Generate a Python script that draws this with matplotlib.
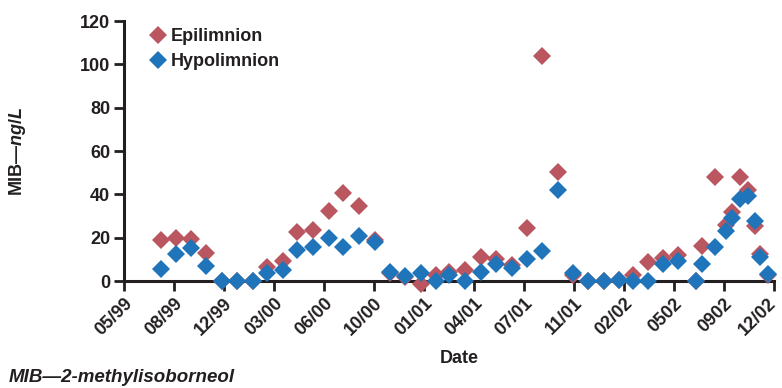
import numpy as np
import matplotlib.pyplot as plt
from matplotlib.transforms import ScaledTranslation

plt.rcParams['font.family'] = ['Liberation Sans', 'DejaVu Sans']
plt.rcParams['font.weight'] = 'bold'
plt.rcParams['mathtext.fontset'] = 'custom'
plt.rcParams['mathtext.it'] = 'Liberation Sans:italic:bold'
plt.rcParams['mathtext.rm'] = 'Liberation Sans:bold'

# Tick labels (evenly spaced categories on the axis)
tick_labels = ['05/99', '08/99', '12/99', '03/00', '06/00', '10/00', '01/01',
               '04/01', '07/01', '11/01', '02/02', '0502', '0902', '12/02']

# Sample positions in tick units (0 = 05/99, 1 = 08/99, ...)
x = [0.735, 1.04, 1.34, 1.64, 1.96, 2.26, 2.58, 2.86, 3.17, 3.46, 3.78,
     4.09, 4.38, 4.70, 5.02, 5.31, 5.62, 5.93, 6.23, 6.50, 6.81, 7.13,
     7.43, 7.75, 8.06, 8.35, 8.67, 8.98, 9.27, 9.59, 9.89, 10.17, 10.48,
     10.78, 11.08, 11.43, 11.55, 11.82, 12.04, 12.15, 12.31, 12.48, 12.62,
     12.72, 12.87]

epilimnion = [18.8, 20, 19.6, 12.9, 0, 0, 0, 6.5, 9.2, 22.6, 23.4,
              32.3, 40.6, 34.6, 18.8, 3.5, 2, -1.5, 2.6, 4.2, 4.9, 11.1,
              10.3, 7.2, 24.6, 104, 50.3, 3, 0, 0, 0.5, 2.6, 8.8,
              10.8, 11.9, 0, 16, 48, 25.7, 31.8, 48, 41.9, 25.2,
              12.6, 3]

hypolimnion = [5.4, 12.6, 15.2, 6.9, 0, 0, 0, 3.9, 4.9, 14.2, 15.7,
               20, 15.7, 20.8, 18, 4.3, 2.1, 3.5, 0, 2.6, 0, 4.2,
               7.7, 6.2, 10, 13.8, 41.9, 3.5, 0, 0, 0.5, 0, 0,
               7.7, 9.2, 0, 7.7, 15.7, 23.1, 29.2, 38, 39.1, 27.6,
               11.1, 3.1]

red = '#B9565F'
blue = '#1F74BA'
dark = '#231F20'

fig = plt.figure(figsize=(7.82, 3.88), dpi=100)
ax = fig.add_axes([124 / 782, 1 - 281 / 388, 650 / 782, 260 / 388])

ax.plot(x, epilimnion, 'D', color=red, markersize=8.7, markeredgewidth=0,
        label='Epilimnion', clip_on=False, zorder=3)
ax.plot(x, hypolimnion, 'D', color=blue, markersize=8.7, markeredgewidth=0,
        label='Hypolimnion', clip_on=False, zorder=4)

ax.set_xlim(0, 13)
ax.set_ylim(0, 120)
ax.set_yticks(np.arange(0, 121, 20))
ax.set_xticks(np.arange(len(tick_labels)))
ax.set_xticklabels(tick_labels, rotation=45, ha='right', rotation_mode='anchor')

for s in ['top', 'right']:
    ax.spines[s].set_visible(False)
for s in ['left', 'bottom']:
    ax.spines[s].set_linewidth(2.2)
    ax.spines[s].set_color(dark)
    ax.spines[s].set_zorder(2)

ax.tick_params(direction='out', length=7, width=2, color=dark,
               labelsize=13, labelcolor=dark, pad=3)
for lab in ax.get_xticklabels() + ax.get_yticklabels():
    lab.set_fontweight('bold')
# last label sits right at the figure edge: nudge it left a little
last = ax.get_xticklabels()[-1]
last.set_transform(last.get_transform() + ScaledTranslation(-6 / 100, 0, fig.dpi_scale_trans))

ax.set_xlabel('Date', fontsize=13, fontweight='bold', color=dark)
ax.xaxis.set_label_coords((459 - 124) / 650, -0.265)
ax.set_ylabel('MIB—$ng/L$', fontsize=13, fontweight='bold', color=dark)
ax.yaxis.set_label_coords(-0.148, 0.5)

leg = ax.legend(loc='upper left', bbox_to_anchor=(0.025, 1.0), frameon=False,
                fontsize=13, handletextpad=0.1, labelspacing=0.45,
                borderaxespad=0, handlelength=1.2)
for t in leg.get_texts():
    t.set_fontweight('bold')
    t.set_color(dark)

fig.text(9 / 782, 1 - 378 / 388, 'MIB—2-methylisoborneol', fontsize=13.5,
         fontweight='bold', fontstyle='italic', color=dark, va='center')

fig.savefig('out.png', dpi=100)
